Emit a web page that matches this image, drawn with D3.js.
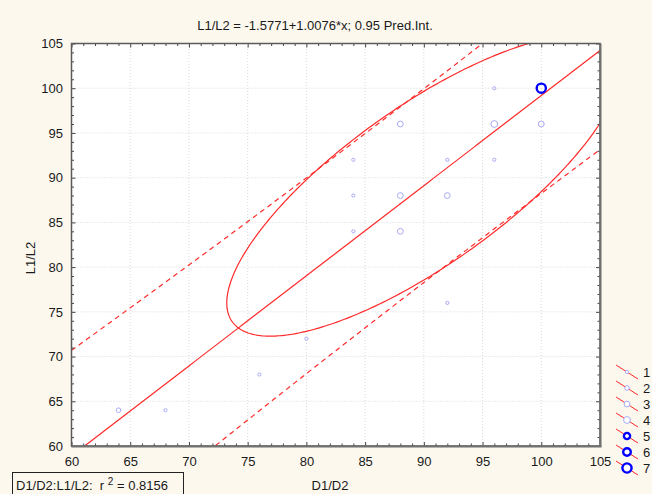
<!DOCTYPE html>
<html>
<head>
<meta charset="utf-8">
<script src="https://cdn.jsdelivr.net/npm/d3@7"></script>
<style>
  body { margin: 0; background: #fcf8ee; }
  text { font-family: "Liberation Sans", Arial, sans-serif; fill: #1a1a1a; }
</style>
</head>
<body>
<div id="chart"></div>
<script>
// values
var xTicks = [60, 65, 70, 75, 80, 85, 90, 95, 100, 105];
var yTicks = [60, 65, 70, 75, 80, 85, 90, 95, 100, 105];

var ptX = [64, 68, 76, 80, 84, 84, 84, 88, 88, 88, 92, 92, 92, 96, 96, 96, 100, 100];
var ptY = [64, 64, 68, 72, 92, 88, 84, 96, 88, 84, 92, 88, 76, 100, 96, 92, 100, 96];
var ptClass = [2, 1, 1, 1, 1, 1, 1, 3, 3, 3, 1, 3, 1, 1, 4, 1, 7, 3];

var legendClasses = ["1", "2", "3", "4", "5", "6", "7"];

// regression and 0.95 prediction band
var intercept = -1.5771, slope = 1.0076;
var piMeanX = 90, piHalfMin = 10.83, piSpread = 0.158;

// ellipse (center, scale in x, scale in y, correlation)
var ellCenter = [90, 89.1], ellA = 16.78, ellB = 16.82, ellRho = 0.779;

var titleText = "L1/L2 = -1.5771+1.0076*x; 0.95 Pred.Int.";
var xTitle = "D1/D2", yTitle = "L1/L2";

var W = 652, H = 494;
var svg = d3.select("#chart").append("svg")
  .attr("width", W)
  .attr("height", H);

svg.append("rect")
  .attr("width", W)
  .attr("height", H)
  .style("fill", "#fcf8ee");

var x = d3.scaleLinear().domain([60, 105]).range([71.5, 600]);
var y = d3.scaleLinear().domain([60, 105]).range([446, 43.5]);

var radius = d3.scaleOrdinal().domain([1, 2, 3, 4, 5, 6, 7]).range([1.6, 2.3, 2.9, 3.4, 3.1, 3.8, 4.6]);

// plot area
svg.append("rect")
  .attr("x", x(60))
  .attr("y", y(105))
  .attr("width", x(105) - x(60))
  .attr("height", y(60) - y(105))
  .style("fill", "white");

svg.append("clipPath").attr("id", "clip")
  .append("rect")
  .attr("x", x(60))
  .attr("y", y(105))
  .attr("width", x(105) - x(60))
  .attr("height", y(60) - y(105));

// grid
var grid = svg.append("g")
  .style("stroke", "#d9d9d9")
  .style("stroke-dasharray", "1,2");
grid.selectAll(".gx").data(xTicks.slice(1, -1)).enter().append("line")
  .attr("x1", function(d) { return x(d); })
  .attr("x2", function(d) { return x(d); })
  .attr("y1", y(60))
  .attr("y2", y(105));
grid.selectAll(".gy").data(yTicks.slice(1, -1)).enter().append("line")
  .attr("y1", function(d) { return y(d); })
  .attr("y2", function(d) { return y(d); })
  .attr("x1", x(60))
  .attr("x2", x(105));

// lines
var plot = svg.append("g").attr("clip-path", "url(#clip)");
var xs = d3.range(55, 110.01, 0.25);
var fit = function(v) { return intercept + slope * v; };
var half = function(v) { return Math.sqrt(piHalfMin * piHalfMin + Math.pow(piSpread * (v - piMeanX), 2)); };

var line = d3.line()
  .x(function(d) { return x(d[0]); })
  .y(function(d) { return y(d[1]); });

plot.append("path")
  .attr("d", line(xs.map(function(v) { return [v, fit(v)]; })))
  .style("fill", "none")
  .style("stroke", "#ff2a2a")
  .style("stroke-width", 1.2);

[1, -1].forEach(function(s) {
  plot.append("path")
    .attr("d", line(xs.map(function(v) { return [v, fit(v) + s * half(v)]; })))
    .style("fill", "none")
    .style("stroke", "#ff2a2a")
    .style("stroke-width", 1.2)
    .style("stroke-dasharray", "5,4");
});

var ts = d3.range(0, 361, 1).map(function(deg) {
  var t = deg * Math.PI / 180;
  return [ellCenter[0] + ellA * Math.cos(t),
          ellCenter[1] + ellB * (ellRho * Math.cos(t) + Math.sqrt(1 - ellRho * ellRho) * Math.sin(t))];
});
plot.append("path")
  .attr("d", line(ts))
  .style("fill", "none")
  .style("stroke", "#ff2a2a")
  .style("stroke-width", 1.2);

// points
plot.selectAll(".pt").data(ptX).enter().append("circle")
  .attr("cx", function(d) { return x(d); })
  .attr("cy", function(d, i) { return y(ptY[i]); })
  .attr("r", function(d, i) { return radius(ptClass[i]); })
  .style("fill", "none")
  .style("stroke", function(d, i) { return ptClass[i] >= 5 ? "#0000ff" : "#a9a9f5"; })
  .style("stroke-width", function(d, i) { return ptClass[i] >= 5 ? 2.4 : 1; });

// axes
var minors = d3.range(60, 105.5, 1).filter(function(v) { return v % 5 !== 0; });

function styleAxis(g) {
  g.select(".domain").remove();
  g.selectAll("line").style("stroke", "#444");
  g.selectAll("text").style("font-size", "13px").style("fill", "#1a1a1a")
    .style("font-family", "'Liberation Sans', Arial, sans-serif");
}

svg.append("g").attr("transform", "translate(" + x(60) + ",0)")
  .call(d3.axisLeft(y).tickValues(yTicks).tickSize(-4).tickPadding(8.5)).call(styleAxis);
svg.append("g").attr("transform", "translate(" + x(60) + ",0)")
  .call(d3.axisLeft(y).tickValues(minors).tickSize(-2.5).tickFormat("")).call(styleAxis);
svg.append("g").attr("transform", "translate(" + x(105) + ",0)")
  .call(d3.axisRight(y).tickValues(yTicks).tickSize(-4).tickFormat("")).call(styleAxis);
svg.append("g").attr("transform", "translate(" + x(105) + ",0)")
  .call(d3.axisRight(y).tickValues(minors).tickSize(-2.5).tickFormat("")).call(styleAxis);
svg.append("g").attr("transform", "translate(0," + y(60) + ")")
  .call(d3.axisBottom(x).tickValues(xTicks).tickSize(-4).tickPadding(11)).call(styleAxis);
svg.append("g").attr("transform", "translate(0," + y(60) + ")")
  .call(d3.axisBottom(x).tickValues(minors).tickSize(-2.5).tickFormat("")).call(styleAxis);
svg.append("g").attr("transform", "translate(0," + y(105) + ")")
  .call(d3.axisTop(x).tickValues(xTicks).tickSize(-4).tickFormat("")).call(styleAxis);
svg.append("g").attr("transform", "translate(0," + y(105) + ")")
  .call(d3.axisTop(x).tickValues(minors).tickSize(-2.5).tickFormat("")).call(styleAxis);

// frame
svg.append("rect")
  .attr("x", x(60))
  .attr("y", y(105))
  .attr("width", x(105) - x(60))
  .attr("height", y(60) - y(105))
  .style("fill", "none")
  .style("stroke", "#5a5a5a")
  .style("stroke-width", 1.5);
svg.append("line")
  .attr("x1", x(105) + 0.5).attr("x2", x(105) + 0.5)
  .attr("y1", y(105)).attr("y2", y(60) + 1)
  .style("stroke", "#707070").style("stroke-width", 2);
svg.append("line")
  .attr("x1", x(60)).attr("x2", x(105) + 1.5)
  .attr("y1", y(60) + 0.5).attr("y2", y(60) + 0.5)
  .style("stroke", "#707070").style("stroke-width", 2);

// titles
svg.append("text")
  .attr("x", 315)
  .attr("y", 30)
  .style("font-size", "13px")
  .style("text-anchor", "middle")
  .text(titleText);

svg.append("text")
  .attr("transform", "translate(35,258) rotate(-90)")
  .style("font-size", "13px")
  .style("text-anchor", "middle")
  .text(yTitle);

svg.append("text")
  .attr("x", 330)
  .attr("y", 490)
  .style("font-size", "13px")
  .style("text-anchor", "middle")
  .text(xTitle);

// r squared box
svg.append("rect")
  .attr("x", 12.5)
  .attr("y", 472.5)
  .attr("width", 171)
  .attr("height", 30)
  .style("fill", "#fcf8ee")
  .style("stroke", "#222")
  .style("stroke-width", 1);
var rt = svg.append("text")
  .attr("x", 16)
  .attr("y", 490)
  .style("font-size", "13px")
  .style("white-space", "pre");
rt.append("tspan").text("D1/D2:L1/L2:  r ");
rt.append("tspan").attr("dy", -5).style("font-size", "10px").text("2");
rt.append("tspan").attr("dy", 5).text(" = 0.8156");

// legend
var ly = d3.scaleLinear().domain([1, 7]).range([372, 468]);
var leg = svg.append("g").selectAll("g").data(legendClasses).enter().append("g")
  .attr("transform", function(d) { return "translate(627," + ly(+d) + ")"; });
leg.append("line")
  .attr("x1", -11).attr("y1", -7)
  .attr("x2", 11).attr("y2", 7)
  .style("stroke", "#ff2a2a")
  .style("stroke-width", 1);
leg.append("circle")
  .attr("r", function(d) { return radius(+d); })
  .style("fill", "white")
  .style("stroke", function(d) { return +d >= 5 ? "#0000ff" : "#a9a9f5"; })
  .style("stroke-width", function(d) { return +d >= 5 ? 2.4 : 1; });
leg.append("text")
  .attr("x", 16)
  .attr("y", 5)
  .style("font-size", "13px")
  .text(function(d) { return d; });
</script>
</body>
</html>
